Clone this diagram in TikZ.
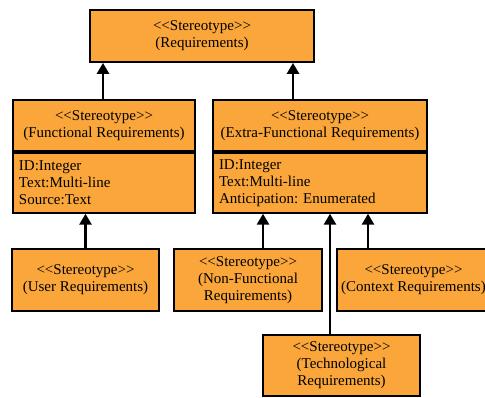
\documentclass[tikz,border=0pt]{standalone}
\usepackage{fontspec}
\setmainfont{Liberation Serif}
\usetikzlibrary{arrows.meta}
\definecolor{reqorange}{RGB}{250,166,58}
\tikzstyle{stereo}=[draw, fill=reqorange, line width=1.8pt, align=center, inner sep=0pt, font=\fontsize{15}{17}\selectfont]
\tikzstyle{attrib}=[draw, fill=reqorange, line width=1.8pt, align=left, anchor=north, inner xsep=6pt, inner ysep=0pt, minimum height=60pt, font=\fontsize{15}{17}\selectfont]
\tikzstyle{inherit}=[line width=2.6pt, -{Triangle[width=12pt,length=11pt]}]
\newcommand{\stype}{<\kern0pt<Stereotype>\kern0pt>}
\frenchspacing

\begin{document}
\begin{tikzpicture}[x=1pt, y=-1pt]
                    \useasboundingbox[fill=white] (0,0) rectangle (485,397);
                    \node[stereo, minimum width=224pt, minimum height=52pt] (req) at (202, 36) {\stype\\(Requirements)};
                    \node[stereo, minimum width=182pt, minimum height=51pt] (fr)  at (104, 125.5) {\stype\\(Functional Requirements)};
                    \node[attrib, text width=170pt] (fratt) at (fr.south) {ID:Integer\\Text:Multi-line\\Source:Text};
                    \node[stereo, minimum width=214pt, minimum height=51pt] (efr) at (320, 125.5) {\stype\\(Extra-Functional Requirements)};
                    \node[attrib, text width=202pt] (efratt) at (efr.south) {ID:Integer\\Text:Multi-line\\Anticipation: Enumerated};
                    \node[stereo, minimum width=147pt, minimum height=62pt] (user) at (85.5, 280) {\stype\\(User Requirements)};
                    \node[stereo, minimum width=148pt, minimum height=62pt] (nfr)  at (248, 280) {\stype\\(Non-Functional\\Requirements)};
                    \node[stereo, minimum width=153pt, minimum height=62pt] (ctx)  at (413.5, 280) {\stype\\(Context Requirements)};
                    \node[stereo, minimum width=157pt, minimum height=61pt] (tech) at (341.5, 365.5) {\stype\\(Technological\\Requirements)};
                    \draw[inherit] ([xshift=-1pt]fr.north) -- ([xshift=-1pt]fr.north |- req.south);
                    \draw[inherit] ([xshift=-27pt]efr.north) -- ([xshift=-27pt]efr.north |- req.south);
                    \draw[inherit] (user.north) -- (user.north |- fratt.south);
                    \draw[inherit] ([xshift=15pt]nfr.north) -- ([xshift=15pt]nfr.north |- efratt.south);
                    \draw[inherit] ([xshift=-11.5pt]tech.north) -- ([xshift=-11.5pt]tech.north |- efratt.south);
                    \draw[inherit] ([xshift=-45.5pt]ctx.north) -- ([xshift=-45.5pt]ctx.north |- efratt.south);
                \end{tikzpicture}
\end{document}
